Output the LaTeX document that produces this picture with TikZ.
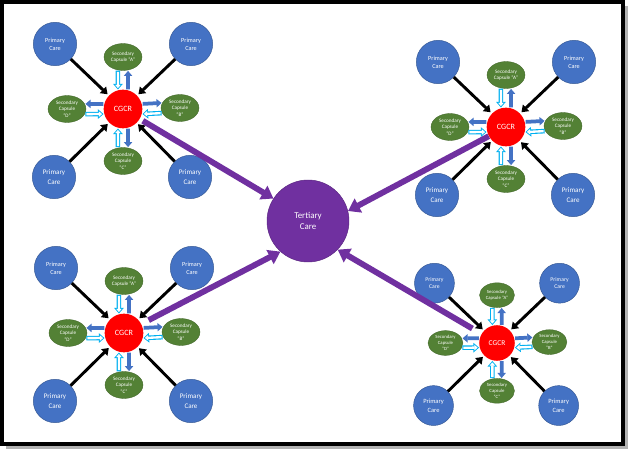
\documentclass[tikz,border=0pt]{standalone}
\usepackage{fontspec}
\setmainfont{Carlito}
\usepackage{tikz}
\usetikzlibrary{arrows.meta,shapes.geometric}

\definecolor{primblue}{HTML}{4472C4}
\definecolor{secgreen}{HTML}{538135}
\definecolor{cgcrred}{HTML}{FF0000}
\definecolor{tertpurple}{HTML}{7030A0}
\definecolor{giveblue}{HTML}{4472C4}
\definecolor{takecyan}{HTML}{00B0F0}

\begin{document}
\begin{tikzpicture}[x=0.3mm, y=-0.3mm,
  primary/.style={circle, draw=primblue!75!black, line width=0.4pt, fill=primblue, text=white, minimum size=37pt, inner sep=0pt, align=center},
  primtop/.style={primary, font=\fontsize{5.3}{7}\selectfont},
  primbot/.style={primary, font=\fontsize{6}{8}\selectfont},
  secondary/.style={ellipse, draw=secgreen!80!black, line width=0.3pt, fill=secgreen, text=white, minimum width=32.4pt, minimum height=23pt, inner sep=0pt, align=center, font=\fontsize{4.4}{5.6}\selectfont},
  hub/.style={circle, fill=cgcrred, text=white, minimum size=33pt, inner sep=0pt, font=\fontsize{6.9}{8}\selectfont},
  tertiary/.style={circle, draw=tertpurple!80!black, fill=tertpurple, text=white, minimum size=70pt, inner sep=0pt, align=center, font=\fontsize{7.6}{10}\selectfont},
  feed/.style={-{Triangle[length=5.5pt,width=7.5pt]}, line width=2.5pt, shorten >=1.5pt},
  give/.style={draw=giveblue, line width=3.2pt, -{Triangle[length=4.3pt,width=7pt]}, shorten >=0.6pt, shorten <=0.6pt},
  take/.style={draw=takecyan, line width=3.9pt, -{Triangle[length=4.8pt,width=8pt]}, shorten >=0.5pt, shorten <=0.5pt,
    postaction={draw=white, line width=2pt, -{Triangle[length=2.8pt,width=4.6pt]}, shorten >=1.7pt, shorten <=1.4pt}},
  refer/.style={draw=tertpurple, line width=5pt, -{Triangle[length=10pt,width=13pt]}}
]
\useasboundingbox (0,0) rectangle (629,451);
% frame with shadow
\draw[gray!60, line width=3pt] (626,6) -- (626,447) -- (6,447);
\draw[line width=3.2pt] (2,2) rectangle (623,444);

% the four CGCR groups
\foreach \c/\x/\y/\s in {tl/123/109/1, tr/506/127/1, bl/124/333/1, br/497/343/0.92}{
  \begin{scope}[shift={(\x,\y)}, scale=\s, transform shape]
    \node[hub] (\c-cgcr) at (0,0) {CGCR};
    \node[primtop] (\c-p1) at (-68,-65) {Primary\\Care};
    \node[primtop] (\c-p2) at (68,-65) {Primary\\Care};
    \node[primbot] (\c-p3) at (-69,68) {Primary\\Care};
    \node[primbot] (\c-p4) at (67,68) {Primary\\Care};
    \node[secondary] (\c-sa) at (0,-52) {Secondary\\Capsule “A”};
    \node[secondary] (\c-sb) at (57,-1) {Secondary\\Capsule\\“B”};
    \node[secondary] (\c-sc) at (0,52) {Secondary\\Capsule\\“C”};
    \node[secondary] (\c-sd) at (-56,0) {Secondary\\Capsule\\“D”};
    \foreach \p in {p1,p2,p3,p4}
      \draw[feed] (\c-\p) -- (\c-cgcr);
    \draw[give] (\c-cgcr.75) -- (\c-sa.-69);
    \draw[take] (\c-sa.-111) -- (\c-cgcr.105);
    \draw[give] (\c-cgcr.165) -- (\c-sd.16);
    \draw[take] (\c-sd.-16) -- (\c-cgcr.195);
    \draw[give] (\c-cgcr.15) -- (\c-sb.164);
    \draw[take] (\c-sb.196) -- (\c-cgcr.-15);
    \draw[give] (\c-cgcr.-75) -- (\c-sc.69);
    \draw[take] (\c-sc.111) -- (\c-cgcr.-105);
  \end{scope}
}

\node[tertiary] (tert) at (308,221) {Tertiary\\Care};

\draw[refer, shorten <=3pt] (tl-cgcr) -- (tert.147);
\draw[refer] (tr-cgcr) -- (tert.14);
\draw[refer, shorten <=7pt] (bl-cgcr) -- (tert.228);
\draw[refer, shorten <=9pt] (br-cgcr) -- (tert.316);
\end{tikzpicture}
\end{document}
